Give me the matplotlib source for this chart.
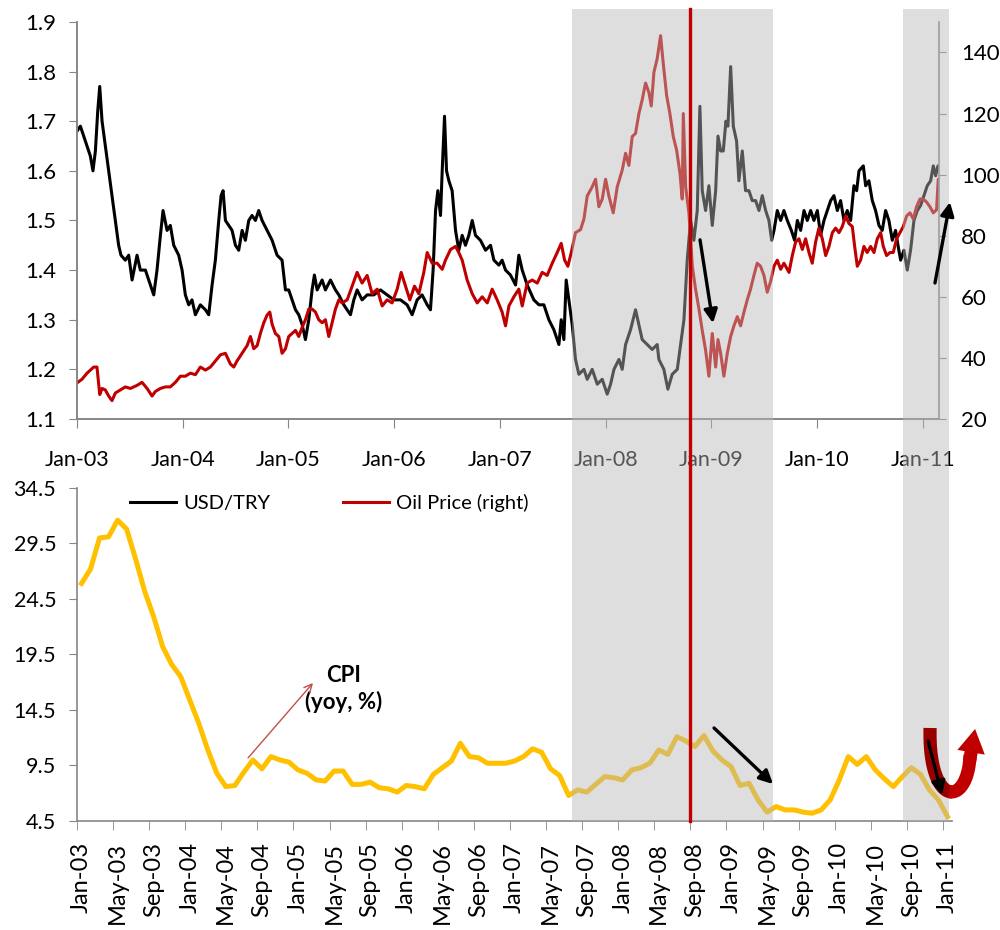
import matplotlib
matplotlib.use('Agg')
import matplotlib.pyplot as plt
import matplotlib.transforms as mtransforms
from matplotlib.patches import Rectangle, FancyArrowPatch
from matplotlib.lines import Line2D
import numpy as np

plt.rcParams['font.family'] = ['Lato', 'DejaVu Sans']

# USD/TRY (left axis), dates as decimal years
usd_t = [2003.000, 2003.032, 2003.063, 2003.095, 2003.126, 2003.151, 2003.174, 2003.196, 2003.215, 2003.237,
         2003.268, 2003.300, 2003.331, 2003.363, 2003.394, 2003.416, 2003.457, 2003.489, 2003.521, 2003.568,
         2003.599, 2003.647, 2003.694, 2003.726, 2003.757, 2003.789, 2003.814, 2003.852, 2003.883, 2003.915,
         2003.962, 2003.994, 2004.025, 2004.057, 2004.088, 2004.120, 2004.167, 2004.215, 2004.246, 2004.278,
         2004.309, 2004.341, 2004.363, 2004.382, 2004.404, 2004.436, 2004.467, 2004.499, 2004.530, 2004.562,
         2004.593, 2004.625, 2004.656, 2004.688, 2004.719, 2004.751, 2004.798, 2004.846, 2004.893, 2004.940,
         2004.972, 2005.003, 2005.035, 2005.067, 2005.098, 2005.130, 2005.161, 2005.193, 2005.224, 2005.246,
         2005.272, 2005.319, 2005.350, 2005.398, 2005.445, 2005.477, 2005.524, 2005.556, 2005.587, 2005.619,
         2005.650, 2005.697, 2005.745, 2005.808, 2005.871, 2005.934, 2005.997, 2006.060, 2006.123, 2006.171,
         2006.218, 2006.265, 2006.313, 2006.344, 2006.369, 2006.392, 2006.414, 2006.439, 2006.455, 2006.477,
         2006.496, 2006.518, 2006.549, 2006.581, 2006.612, 2006.644, 2006.675, 2006.707, 2006.739, 2006.770,
         2006.817, 2006.865, 2006.912, 2006.944, 2006.991, 2007.022, 2007.054, 2007.101, 2007.149, 2007.180,
         2007.212, 2007.259, 2007.322, 2007.370, 2007.417, 2007.464, 2007.511, 2007.559, 2007.581, 2007.606,
         2007.628, 2007.653, 2007.685, 2007.716, 2007.748, 2007.796, 2007.827, 2007.874, 2007.922, 2007.969,
         2008.016, 2008.048, 2008.080, 2008.127, 2008.158, 2008.190, 2008.237, 2008.284, 2008.316, 2008.347,
         2008.395, 2008.442, 2008.489, 2008.505, 2008.552, 2008.590, 2008.631, 2008.679, 2008.710, 2008.742,
         2008.773, 2008.805, 2008.836, 2008.868, 2008.893, 2008.915, 2008.947, 2008.978, 2009.010, 2009.042,
         2009.064, 2009.089, 2009.114, 2009.139, 2009.158, 2009.184, 2009.209, 2009.240, 2009.262, 2009.294,
         2009.325, 2009.357, 2009.388, 2009.420, 2009.452, 2009.483, 2009.515, 2009.546, 2009.572, 2009.594,
         2009.625, 2009.657, 2009.688, 2009.720, 2009.758, 2009.789, 2009.815, 2009.846, 2009.878, 2009.909,
         2009.941, 2009.972, 2010.004, 2010.035, 2010.067, 2010.098, 2010.130, 2010.161, 2010.193, 2010.224,
         2010.256, 2010.287, 2010.319, 2010.350, 2010.376, 2010.398, 2010.439, 2010.461, 2010.492, 2010.524,
         2010.555, 2010.587, 2010.618, 2010.650, 2010.681, 2010.713, 2010.744, 2010.767, 2010.792, 2010.823,
         2010.855, 2010.886, 2010.918, 2010.950, 2010.981, 2011.013, 2011.044, 2011.076, 2011.101, 2011.123,
         2011.145, 2011.164]
usd_v = [1.68, 1.69, 1.67, 1.65, 1.63, 1.60, 1.64, 1.72, 1.77, 1.70,
         1.65, 1.60, 1.55, 1.50, 1.45, 1.43, 1.42, 1.43, 1.38, 1.43,
         1.40, 1.40, 1.37, 1.35, 1.40, 1.47, 1.52, 1.48, 1.49, 1.45,
         1.43, 1.40, 1.35, 1.33, 1.34, 1.31, 1.33, 1.32, 1.31, 1.37,
         1.42, 1.50, 1.55, 1.56, 1.50, 1.49, 1.48, 1.45, 1.44, 1.48,
         1.46, 1.50, 1.51, 1.50, 1.52, 1.50, 1.48, 1.46, 1.43, 1.42,
         1.36, 1.36, 1.34, 1.32, 1.31, 1.29, 1.26, 1.30, 1.36, 1.39,
         1.36, 1.38, 1.36, 1.38, 1.36, 1.35, 1.33, 1.32, 1.31, 1.34,
         1.36, 1.34, 1.35, 1.35, 1.36, 1.35, 1.34, 1.34, 1.33, 1.31,
         1.34, 1.35, 1.33, 1.32, 1.40, 1.52, 1.56, 1.51, 1.60, 1.71,
         1.60, 1.58, 1.56, 1.48, 1.44, 1.47, 1.45, 1.47, 1.50, 1.47,
         1.46, 1.44, 1.45, 1.42, 1.41, 1.42, 1.40, 1.39, 1.37, 1.43,
         1.40, 1.37, 1.34, 1.33, 1.33, 1.30, 1.28, 1.25, 1.30, 1.26,
         1.38, 1.34, 1.29, 1.22, 1.19, 1.20, 1.18, 1.20, 1.17, 1.18,
         1.15, 1.17, 1.20, 1.22, 1.20, 1.25, 1.28, 1.32, 1.29, 1.26,
         1.25, 1.24, 1.25, 1.22, 1.20, 1.16, 1.19, 1.20, 1.25, 1.30,
         1.42, 1.50, 1.46, 1.52, 1.73, 1.56, 1.52, 1.57, 1.49, 1.56,
         1.67, 1.64, 1.64, 1.70, 1.69, 1.81, 1.69, 1.66, 1.58, 1.64,
         1.56, 1.56, 1.54, 1.54, 1.52, 1.55, 1.52, 1.50, 1.46, 1.48,
         1.52, 1.50, 1.52, 1.50, 1.48, 1.46, 1.50, 1.48, 1.52, 1.50,
         1.52, 1.50, 1.52, 1.47, 1.50, 1.52, 1.54, 1.55, 1.52, 1.54,
         1.50, 1.52, 1.50, 1.57, 1.56, 1.60, 1.61, 1.57, 1.58, 1.54,
         1.52, 1.49, 1.48, 1.52, 1.50, 1.46, 1.48, 1.45, 1.42, 1.44,
         1.40, 1.44, 1.50, 1.52, 1.53, 1.55, 1.57, 1.58, 1.61, 1.59,
         1.61, 1.60]

# Oil price (right axis)
oil_t = [2003.000, 2003.047, 2003.095, 2003.126, 2003.158, 2003.189, 2003.215, 2003.237, 2003.268, 2003.300,
         2003.331, 2003.363, 2003.410, 2003.457, 2003.505, 2003.568, 2003.615, 2003.663, 2003.710, 2003.741,
         2003.789, 2003.836, 2003.883, 2003.931, 2003.978, 2004.025, 2004.073, 2004.120, 2004.167, 2004.215,
         2004.262, 2004.309, 2004.357, 2004.404, 2004.451, 2004.483, 2004.514, 2004.562, 2004.609, 2004.641,
         2004.672, 2004.704, 2004.735, 2004.767, 2004.798, 2004.824, 2004.846, 2004.877, 2004.909, 2004.940,
         2004.972, 2005.003, 2005.035, 2005.067, 2005.098, 2005.130, 2005.161, 2005.193, 2005.224, 2005.256,
         2005.287, 2005.319, 2005.350, 2005.382, 2005.413, 2005.445, 2005.477, 2005.508, 2005.556, 2005.603,
         2005.650, 2005.697, 2005.745, 2005.792, 2005.840, 2005.887, 2005.934, 2005.981, 2006.029, 2006.067,
         2006.108, 2006.149, 2006.193, 2006.234, 2006.281, 2006.313, 2006.360, 2006.407, 2006.455, 2006.486,
         2006.534, 2006.581, 2006.612, 2006.644, 2006.691, 2006.739, 2006.786, 2006.833, 2006.881, 2006.928,
         2006.975, 2007.022, 2007.054, 2007.086, 2007.133, 2007.180, 2007.212, 2007.259, 2007.306, 2007.354,
         2007.401, 2007.448, 2007.496, 2007.543, 2007.581, 2007.613, 2007.644, 2007.676, 2007.716, 2007.764,
         2007.796, 2007.827, 2007.874, 2007.906, 2007.937, 2007.969, 2008.001, 2008.032, 2008.073, 2008.111,
         2008.158, 2008.190, 2008.221, 2008.253, 2008.284, 2008.316, 2008.347, 2008.379, 2008.410, 2008.433,
         2008.458, 2008.489, 2008.521, 2008.546, 2008.578, 2008.609, 2008.641, 2008.673, 2008.704, 2008.726,
         2008.736, 2008.758, 2008.789, 2008.821, 2008.852, 2008.884, 2008.915, 2008.947, 2008.978, 2009.010,
         2009.042, 2009.064, 2009.089, 2009.120, 2009.152, 2009.184, 2009.215, 2009.247, 2009.278, 2009.310,
         2009.341, 2009.372, 2009.404, 2009.435, 2009.467, 2009.499, 2009.530, 2009.562, 2009.594, 2009.625,
         2009.657, 2009.688, 2009.736, 2009.767, 2009.799, 2009.830, 2009.862, 2009.893, 2009.925, 2009.956,
         2009.988, 2010.019, 2010.051, 2010.083, 2010.114, 2010.146, 2010.177, 2010.209, 2010.240, 2010.272,
         2010.303, 2010.335, 2010.357, 2010.382, 2010.413, 2010.445, 2010.476, 2010.508, 2010.540, 2010.571,
         2010.603, 2010.628, 2010.659, 2010.691, 2010.722, 2010.754, 2010.785, 2010.817, 2010.849, 2010.880,
         2010.912, 2010.943, 2010.975, 2011.006, 2011.038, 2011.069, 2011.101, 2011.132, 2011.148, 2011.164]
oil_v = [31.8, 33, 35, 36, 37, 37, 28, 30, 29.5, 27.5,
         26, 28.5, 29.5, 30.5, 30, 31, 32, 30, 27.5, 29,
         30, 30.5, 30.5, 32, 34, 34, 35, 34.5, 37, 36,
         37, 39, 41, 41.5, 38, 37, 39, 41.5, 44, 47,
         43, 44, 48, 51.5, 54, 55, 51, 48, 47, 41.5,
         43, 47, 48, 49, 47, 50, 52.5, 56, 56, 55,
         52.5, 51.5, 52.5, 47, 51.5, 56, 59, 58, 59, 63.5,
         68, 64.5, 67, 61, 62.5, 57, 59, 58, 62.5, 68,
         63.5, 59, 63.5, 61, 68, 74.5, 71, 71, 69, 72,
         75.5, 76.5, 74.5, 72, 65.5, 61, 58, 60, 58, 62.5,
         59, 55, 50.5, 57, 60, 62.5, 57, 64.5, 65.5, 64.5,
         68, 67, 71, 74.5, 77.5, 72, 70, 74.5, 81, 82,
         85.5, 93, 96, 98.5, 89.5, 92, 98.5, 93, 87.5, 96,
         101.5, 107, 103, 112.5, 113.5, 120, 124.5, 130, 127, 122.5,
         133.5, 138, 145.5, 136.5, 126, 120, 112.5, 108, 100.5, 92,
         120, 96, 87.5, 70, 62.5, 56, 49, 42.5, 34, 48,
         37, 46, 41.5, 34, 41.5, 47, 50.5, 53.5, 50.5, 55,
         59, 62.5, 67, 71, 70, 67, 61.5, 65, 70, 72,
         69, 71, 68, 73.5, 78, 79, 75.5, 79, 74.5, 71,
         78, 82.5, 79, 73.5, 76.5, 81, 82.5, 81, 83, 86.5,
         84, 83, 76.5, 70, 72, 76.5, 74.5, 76.5, 74.5, 79,
         81, 76.5, 73.5, 74.5, 74.5, 79, 81, 83, 86.5, 87.5,
         85.5, 89.5, 92, 92, 91, 89.5, 87.5, 88.5, 98.5, 97.5]

# CPI yoy %, monthly Jan-03 .. Jan-11
cpi = [25.9, 27.2, 30.0, 30.1, 31.6, 30.8, 28.1, 25.2, 22.9, 20.2,
       18.6, 17.5, 15.4, 13.3, 10.9, 8.8, 7.6, 7.7, 8.9, 10.0,
       9.2, 10.3, 10.0, 9.8, 9.1, 8.8, 8.2, 8.1, 9.0, 9.0,
       7.8, 7.8, 8.0, 7.5, 7.4, 7.1, 7.7, 7.6, 7.4, 8.7,
       9.3, 9.9, 11.5, 10.3, 10.2, 9.7, 9.7, 9.7, 9.9, 10.3,
       11.0, 10.7, 9.2, 8.6, 6.8, 7.3, 7.1, 7.8, 8.5, 8.4,
       8.2, 9.1, 9.3, 9.7, 10.9, 10.5, 12.1, 11.7, 11.2, 12.2,
       10.8, 10.0, 9.4, 7.7, 7.9, 6.4, 5.3, 5.8, 5.5, 5.5,
       5.3, 5.2, 5.5, 6.4, 8.2, 10.3, 9.6, 10.3, 9.1, 8.3,
       7.6, 8.5, 9.3, 8.7, 7.3, 6.4, 4.9]

top_years = [2003, 2004, 2005, 2006, 2007, 2008, 2009, 2010, 2011]
top_labels = ['Jan-03', 'Jan-04', 'Jan-05', 'Jan-06', 'Jan-07', 'Jan-08', 'Jan-09', 'Jan-10', 'Jan-11']
cpi_labels = ['Jan-03', 'May-03', 'Sep-03', 'Jan-04', 'May-04', 'Sep-04', 'Jan-05', 'May-05', 'Sep-05',
              'Jan-06', 'May-06', 'Sep-06', 'Jan-07', 'May-07', 'Sep-07', 'Jan-08', 'May-08', 'Sep-08',
              'Jan-09', 'May-09', 'Sep-09', 'Jan-10', 'May-10', 'Sep-10', 'Jan-11']

# shaded periods and crisis marker, in CPI month index
shade_spans = [(54.4, 76.7), (91.1, 96.2)]
crisis_month = 67.5

axis_grey = '#868686'

fig = plt.figure(figsize=(10, 9.3), dpi=100)

# ---- top panel ----
ax1 = fig.add_axes([0.077, 0.5495, 0.862, 0.4269])
l_usd, = ax1.plot(usd_t, usd_v, color='black', lw=2.2, label='USD/TRY')
ax1.set_xlim(2003, 2011.155)
ax1.set_ylim(1.1, 1.9)
ax1.set_yticks(np.round(np.arange(1.1, 1.91, 0.1), 1))
ax1.set_yticklabels(['%.1f' % v for v in np.arange(1.1, 1.91, 0.1)])
ax1.set_xticks(top_years)
ax1.set_xticklabels(top_labels)

ax1b = ax1.twinx()
l_oil, = ax1b.plot(oil_t, oil_v, color='#c00000', lw=2.2, label='Oil Price (right)')
ax1b.set_ylim(20, 150)
ax1b.set_yticks(range(20, 141, 20))

for a in (ax1, ax1b):
    for s in a.spines.values():
        s.set_color(axis_grey)
        s.set_linewidth(1.2)
    a.spines['top'].set_visible(False)
ax1.spines['right'].set_visible(False)
ax1.tick_params(axis='y', length=6, color=axis_grey, labelsize=16, pad=9)
ax1.tick_params(axis='x', length=6.5, color=axis_grey, labelsize=15.5, pad=16)
ax1b.tick_params(axis='y', length=5, color=axis_grey, labelsize=16, pad=11)

# ---- bottom panel ----
ax2 = fig.add_axes([0.077, 0.1172, 0.875, 0.3581])
months = np.arange(len(cpi))
ax2.plot(months, cpi, color='#ffc000', lw=3.6, solid_joinstyle='round')
ax2.set_xlim(-0.5, len(cpi) - 0.5)
ax2.set_ylim(4.5, 34.5)
ax2.set_yticks(np.arange(4.5, 34.6, 5))
ax2.set_yticklabels(['%.1f' % v for v in np.arange(4.5, 34.6, 5)])
ax2.set_xticks(months[::4])
ax2.set_xticklabels(cpi_labels, rotation=90)
ax2.set_xticks(np.arange(-0.5, len(cpi), 4), minor=True)
for k in ('top', 'right'):
    ax2.spines[k].set_visible(False)
for k in ('left', 'bottom'):
    ax2.spines[k].set_color(axis_grey)
    ax2.spines[k].set_linewidth(1.2)
ax2.tick_params(axis='y', length=6, color=axis_grey, labelsize=15.5, pad=9)
ax2.tick_params(axis='x', which='major', length=0, labelsize=17, pad=15)
ax2.tick_params(axis='x', which='minor', length=6.5, color=axis_grey)

ax2.text(29.1, 16.4, 'CPI\n(yoy, %)', ha='center', va='center', fontsize=16,
         fontweight='bold', linespacing=1.3)
ax2.annotate('', xy=(25.66, 16.93), xytext=(18.46, 10.18),
             arrowprops=dict(arrowstyle='->', color='#c0504d', lw=1.0,
                             mutation_scale=14, shrinkA=0, shrinkB=0))

# legend for the top panel lines, sitting in the bottom panel
fig.legend([l_usd, l_oil], ['USD/TRY', 'Oil Price (right)'], loc='center',
           bbox_to_anchor=(0.329, 1 - 503 / 930), ncol=2, frameon=False,
           fontsize=14.5, handlelength=2.3, handletextpad=0.35, columnspacing=3.6)

# ---- shading over both panels ----
blend = mtransforms.blended_transform_factory(ax2.transData, fig.transFigure)
y_lo, y_hi = 1 - 821 / 930, 1 - 9 / 930
for x0, x1 in shade_spans:
    fig.add_artist(Rectangle((x0, y_lo), x1 - x0, y_hi - y_lo, transform=blend,
                             facecolor='#b8b8b8', edgecolor='none', alpha=0.46, zorder=10))
fig.add_artist(Line2D([crisis_month, crisis_month], [y_lo, y_hi], transform=blend,
                      color='#c00000', lw=2.4, zorder=11))

# ---- arrows on top of shading ----
def black_arrow(ax, start, end):
    fig.add_artist(FancyArrowPatch(start, end, transform=ax.transData,
                                   arrowstyle='-|>', mutation_scale=20, lw=2.4,
                                   color='black', shrinkA=0, shrinkB=0, zorder=12))

black_arrow(ax1, (2008.894, 1.461), (2009.017, 1.293))
black_arrow(ax1, (2011.117, 1.374), (2011.259, 1.537))
black_arrow(ax2, (70.12, 12.88), (76.66, 7.83))
black_arrow(ax2, (93.85, 11.71), (95.40, 6.84))

# U-turn arrow: cubic body (dark -> red) plus a simple head
u_ctrl = np.array([(94.07, 12.88), (93.85, 5.67), (98.28, 5.67), (98.50, 10.45)])
s = np.linspace(0, 1, 60)[:, None]
u_curve = ((1 - s) ** 3 * u_ctrl[0] + 3 * (1 - s) ** 2 * s * u_ctrl[1]
           + 3 * (1 - s) * s ** 2 * u_ctrl[2] + s ** 3 * u_ctrl[3])
for part, col in ((u_curve[:34], '#980000'), (u_curve[30:], '#c00000')):
    fig.add_artist(Line2D(part[:, 0], part[:, 1], transform=ax2.transData, color=col,
                          lw=9.5, solid_capstyle='butt', solid_joinstyle='round', zorder=11.5))
fig.add_artist(FancyArrowPatch((98.45, 9.9), (99.06, 12.79), transform=ax2.transData,
                               arrowstyle='simple,tail_width=0.95,head_width=2.0,head_length=1.7',
                               mutation_scale=10, color='#c00000', lw=0, shrinkA=0, shrinkB=0,
                               zorder=11.6))

fig.savefig('out.png', dpi=100)
